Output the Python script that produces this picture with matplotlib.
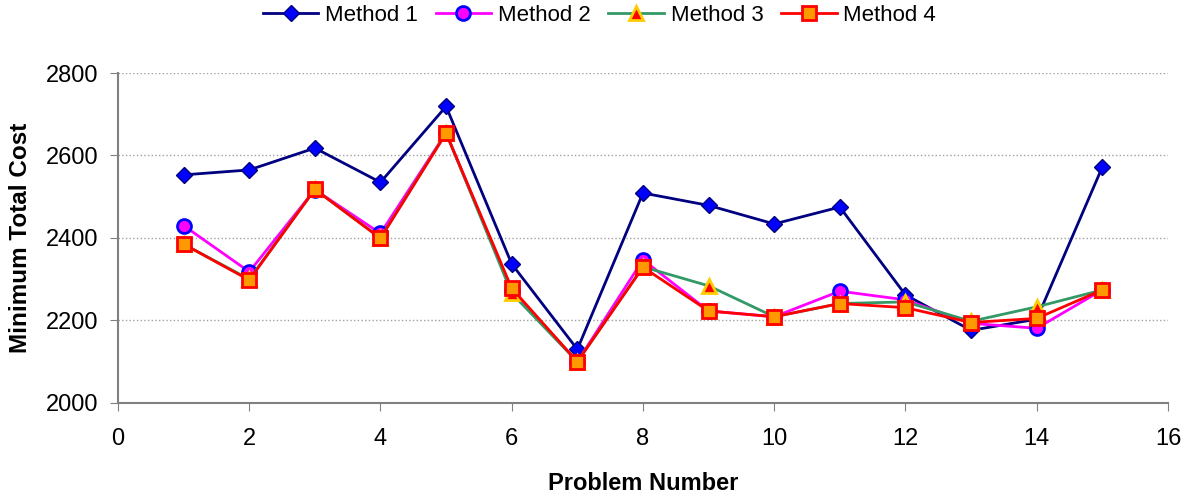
import matplotlib.pyplot as plt

plt.rcParams['font.family'] = ['Liberation Sans', 'DejaVu Sans']

problems = list(range(1, 16))
method1 = [2553, 2565, 2618, 2535, 2719, 2337, 2130, 2509, 2479, 2434, 2475, 2262, 2176, 2203, 2572]
method2 = [2430, 2318, 2517, 2411, 2655, 2272, 2100, 2347, 2223, 2209, 2271, 2250, 2193, 2181, 2274]
method3 = [2385, 2300, 2518, 2400, 2655, 2266, 2100, 2330, 2284, 2209, 2241, 2245, 2198, 2233, 2274]
method4 = [2385, 2298, 2518, 2399, 2654, 2278, 2100, 2329, 2223, 2209, 2241, 2231, 2195, 2205, 2274]

fig = plt.figure(figsize=(11.99, 4.95), dpi=100)
ax = fig.add_axes([0.0984, 0.186, 0.8757, 0.6665])

ax.plot(problems, method1, color='#000080', lw=2, marker='D', ms=8,
        mfc='#0000FF', mec='#000080', mew=1, label='Method 1', zorder=3)
ax.plot(problems, method2, color='#FF00FF', lw=2, marker='o', ms=10,
        mfc='#FF00FF', mec='#0000FF', mew=2, label='Method 2', zorder=4)
ax.plot(problems, method3, color='#339966', lw=2, marker='^', ms=10,
        mfc='#FF0000', mec='#FFCC00', mew=2, label='Method 3', zorder=5)
ax.plot(problems, method4, color='#FF0000', lw=2, marker='s', ms=10,
        mfc='#FF9900', mec='#FF0000', mew=2, label='Method 4', zorder=6)

ax.set_xlim(0, 16)
ax.set_ylim(2000, 2800)
ax.set_xticks(range(0, 17, 2))
ax.set_yticks(range(2000, 2801, 200))
ax.tick_params(labelsize=17, color='#808080', length=6, direction='out')
ax.tick_params(axis='x', pad=12)
ax.tick_params(axis='y', pad=8)

ax.yaxis.grid(True, color='#a0a0a0', linestyle=':', linewidth=1)
ax.set_axisbelow(True)
for side in ['top', 'right']:
    ax.spines[side].set_visible(False)
for side in ['left', 'bottom']:
    ax.spines[side].set_color('#808080')
    ax.spines[side].set_linewidth(1.5)

ax.set_xlabel('Problem Number', fontsize=17, fontweight='bold', labelpad=16)
ax.set_ylabel('Minimum Total Cost', fontsize=17.5, fontweight='bold', labelpad=10)

fig.legend(loc='upper center', bbox_to_anchor=(0.5, 1.03), ncol=4, frameon=False,
           fontsize=16, handlelength=2.5, columnspacing=0.8, handletextpad=0.3)

plt.savefig('out.png', dpi=100)
